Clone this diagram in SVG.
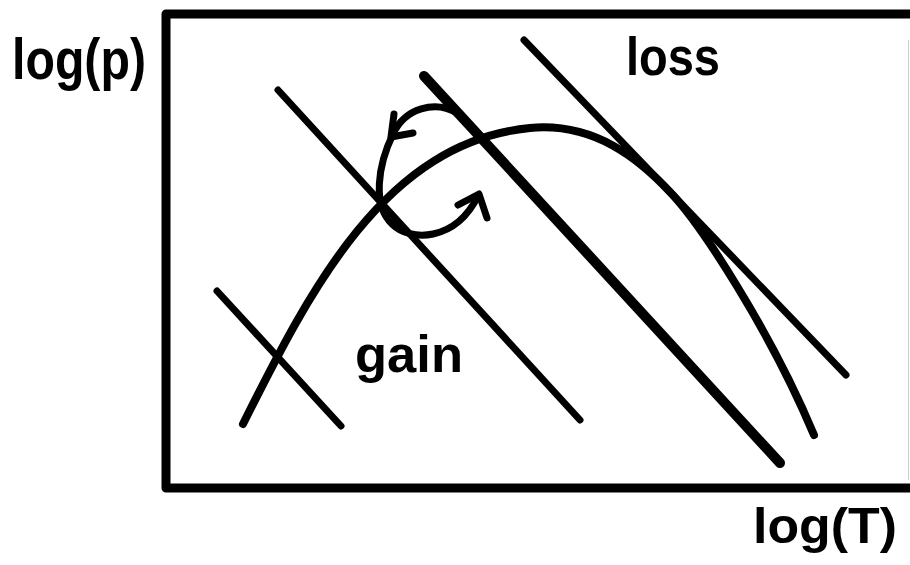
<svg xmlns="http://www.w3.org/2000/svg" width="910" height="565" viewBox="0 0 910 565">
<style>
.ln{fill:none;stroke:#000;stroke-linecap:round;stroke-linejoin:round}
.t{font-family:"Liberation Sans",Arial,sans-serif;font-weight:bold;fill:#000}
</style>
<rect width="910" height="565" fill="#fff"/>
<g id="frame">
<path class="ln" d="M910,14 L166,14 L166,488 L910,488" stroke-width="9" stroke-linecap="butt"/>
<line x1="908.5" y1="40" x2="908.5" y2="480" stroke="#ccc" stroke-width="1"/>
</g>
<g id="labels">
<text class="t" x="12" y="79" font-size="58" textLength="134" lengthAdjust="spacingAndGlyphs">log(p)</text>
<text class="t" x="626" y="75" font-size="54" textLength="94" lengthAdjust="spacingAndGlyphs">loss</text>
<text class="t" x="355" y="372" font-size="52" textLength="108" lengthAdjust="spacingAndGlyphs">gain</text>
<text class="t" x="753" y="543" font-size="50" textLength="144" lengthAdjust="spacingAndGlyphs">log(T)</text>
</g>
<g id="connectors">
<line class="ln" x1="217" y1="291" x2="341" y2="426" stroke-width="7"/>
<line class="ln" x1="278" y1="90" x2="580" y2="420" stroke-width="7"/>
<line class="ln" x1="424" y1="76" x2="780" y2="463" stroke-width="10"/>
<line class="ln" x1="524" y1="40" x2="846" y2="375" stroke-width="7"/>
<path class="ln" d="M243,424 C310,290 385,142 530,128 C595,122 640,160 670,192 C700,223 770,330 814,435" stroke-width="8"/>
<path class="ln" d="M457,113 C435,100 405,108 393,134 C378,165 372,205 392,224 C410,242 455,242 478,196" stroke-width="7"/>
<polyline class="ln" points="394,114 391,137 413,133" stroke-width="7"/>
<polyline class="ln" points="458,205 479,194 487,218" stroke-width="7"/>
</g>
</svg>
